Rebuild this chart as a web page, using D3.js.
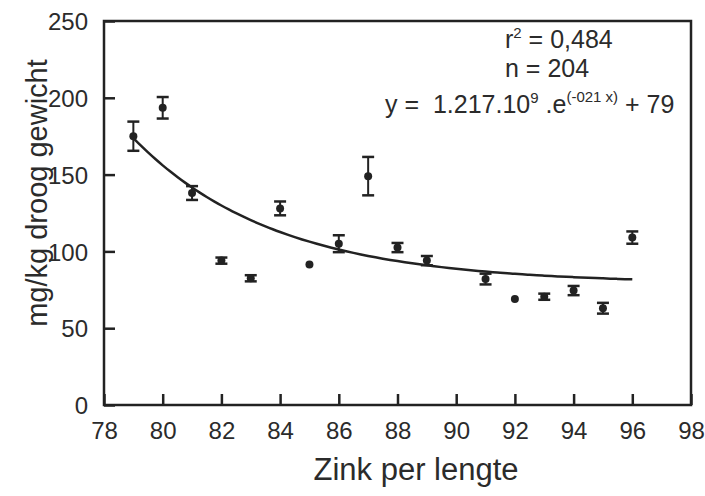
<!DOCTYPE html>
<html>
<head>
<meta charset="utf-8">
<script src="https://cdnjs.cloudflare.com/ajax/libs/d3/7.8.5/d3.min.js"></script>
<style>
  body { margin: 0; background: #fff; }
  text { font-family: Arial, "Liberation Sans", sans-serif; fill: #2b2b2b; white-space: pre; }
</style>
</head>
<body>
<div id="chart"></div>
<script>
// data
var lengths = [79, 80, 81, 82, 83, 84, 85, 86, 87, 88, 89, 91, 92, 93, 94, 95, 96];
var zinc = [175, 193.5, 138, 94, 82.5, 128, 91.5, 105, 149, 102.5, 94, 82, 69, 70.5, 74.5, 63, 109];
var zincErr = [9.5, 7, 4.5, 2, 2, 4.5, 0, 5.5, 12.5, 3, 3, 3.5, 0, 2, 3, 3.5, 4];
var xTicks = [78, 80, 82, 84, 86, 88, 90, 92, 94, 96, 98];
var yTicks = [0, 50, 100, 150, 200, 250];

// fitted curve y = A * e^(-b x) + c
var fitA = 1.217e9, fitB = 0.2072, fitC = 79;
var fitRange = [79, 96];

var width = 705,
    height = 496;

var svg = d3.select('#chart')
    .append('svg')
    .attr('width', width)
    .attr('height', height);

var x = d3.scaleLinear().domain([78, 98]).range([104, 691]);
var y = d3.scaleLinear().domain([0, 250]).range([405, 21]);

var ink = '#222';

// frame
svg.append('rect')
    .attr('x', x(78))
    .attr('y', y(250))
    .attr('width', x(98) - x(78))
    .attr('height', y(0) - y(250))
    .attr('fill', 'none')
    .attr('stroke', ink)
    .attr('stroke-width', 2.5);

// axes with inward ticks
var xAxis = svg.append('g')
    .attr('transform', 'translate(0,' + y(0) + ')')
    .call(d3.axisBottom(x).tickValues(xTicks).tickSizeInner(-11).tickSizeOuter(0).tickPadding(22));
var yAxis = svg.append('g')
    .attr('transform', 'translate(' + x(78) + ',0)')
    .call(d3.axisLeft(y).tickValues(yTicks).tickSizeInner(-11).tickSizeOuter(0).tickPadding(16));

[xAxis, yAxis].forEach(function(g) {
    g.select('.domain').remove();
    g.selectAll('.tick line').attr('stroke', ink).attr('stroke-width', 2.5);
    g.selectAll('.tick text')
        .style('font-size', '24px')
        .attr('fill', '#2b2b2b');
});
xAxis.selectAll('.tick text').attr('dy', '0.5em');
yAxis.selectAll('.tick text').attr('dy', '0.36em');

// axis titles
svg.append('text')
    .attr('text-anchor', 'middle')
    .attr('x', 416)
    .attr('y', 480)
    .style('font-size', '31px')
    .text('Zink per lengte');

svg.append('text')
    .attr('text-anchor', 'middle')
    .attr('transform', 'translate(47,193) rotate(-90)')
    .style('font-size', '29px')
    .text('mg/kg droog gewicht');

// fitted curve
var curveData = d3.range(fitRange[0], fitRange[1] + 0.001, 0.25).map(function(v) {
    return { x: v, y: fitA * Math.exp(-fitB * v) + fitC };
});
var line = d3.line()
    .x(function(d) { return x(d.x) })
    .y(function(d) { return y(d.y) })
    .curve(d3.curveBasis);
svg.append('path')
    .datum(curveData)
    .attr('d', line)
    .attr('fill', 'none')
    .attr('stroke', ink)
    .attr('stroke-width', 2.5);

// points with error bars
var points = lengths.map(function(l, i) {
    return { x: l, y: zinc[i], e: zincErr[i] };
});
var marks = svg.append('g')
    .selectAll('g')
    .data(points)
    .enter()
    .append('g');

marks.filter(function(d) { return d.e > 0 })
    .append('line')
    .attr('x1', function(d) { return x(d.x) })
    .attr('x2', function(d) { return x(d.x) })
    .attr('y1', function(d) { return y(d.y - d.e) })
    .attr('y2', function(d) { return y(d.y + d.e) })
    .attr('stroke', ink)
    .attr('stroke-width', 2);

['top', 'bottom'].forEach(function(side) {
    marks.filter(function(d) { return d.e > 0 })
        .append('line')
        .attr('x1', function(d) { return x(d.x) - 6 })
        .attr('x2', function(d) { return x(d.x) + 6 })
        .attr('y1', function(d) { return y(side == 'top' ? d.y + d.e : d.y - d.e) })
        .attr('y2', function(d) { return y(side == 'top' ? d.y + d.e : d.y - d.e) })
        .attr('stroke', ink)
        .attr('stroke-width', 2.5);
});

marks.append('circle')
    .attr('cx', function(d) { return x(d.x) })
    .attr('cy', function(d) { return y(d.y) })
    .attr('r', 4)
    .attr('fill', ink);

// statistics annotation
var note = svg.append('g').style('font-size', '25px');

var r2 = note.append('text').attr('x', 505).attr('y', 48);
r2.append('tspan').text('r');
r2.append('tspan').attr('dy', -10).style('font-size', '15px').text('2');
r2.append('tspan').attr('dy', 10).text(' = 0,484');

note.append('text').attr('x', 505).attr('y', 77).text('n = 204');

var eq = note.append('text').attr('x', 385).attr('y', 113);
eq.append('tspan').text('y =  1.217.10');
eq.append('tspan').attr('dy', -10).style('font-size', '15px').text('9');
eq.append('tspan').attr('dy', 10).text(' .e');
eq.append('tspan').attr('dy', -11).style('font-size', '15px').text('(-021 x)');
eq.append('tspan').attr('dy', 11).text(' + 79');
</script>
</body>
</html>
